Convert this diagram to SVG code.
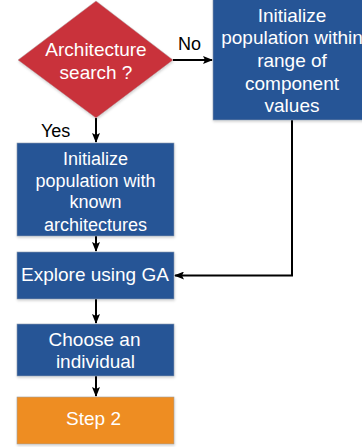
<svg xmlns="http://www.w3.org/2000/svg" width="362" height="447" viewBox="0 0 362 447">
<style>
.box{fill:#255596;stroke:#8c9cb0;stroke-width:0.6;filter:url(#sh)}
.t{font-family:"Liberation Sans",Arial,sans-serif;font-size:19px;fill:#fff;text-anchor:middle}
.s{font-size:18px}
.lbl{font-family:"Liberation Sans",Arial,sans-serif;font-size:18px;fill:#000}
.c{fill:none;stroke:#000;stroke-width:2;marker-end:url(#ah)}
</style>
<defs>
<filter id="sh" x="-10%" y="-10%" width="120%" height="130%">
<feDropShadow dx="0.5" dy="1.5" stdDeviation="1" flood-color="#000" flood-opacity="0.18"/>
</filter>
<marker id="ah" markerWidth="10" markerHeight="8" refX="9" refY="4" orient="auto" markerUnits="userSpaceOnUse">
<path d="M0,0 L10,4 L0,8 L2,4 Z" fill="#000"/>
</marker>
</defs>
<g id="connectors">
<path class="c" d="M173,60 H212"/>
<path class="c" d="M96,118 V142"/>
<path class="c" d="M96,236 V251"/>
<path class="c" d="M292,120 V275.5 H175"/>
<path class="c" d="M96,299 V323"/>
<path class="c" d="M96,376 V396"/>
<text class="lbl" x="178" y="50">No</text>
<text class="lbl" x="41" y="137">Yes</text>
</g>
<g id="decision">
<polygon points="96,1 173,60 96,118 18,60" fill="#c9303b" stroke="#b0a0a0" stroke-width="0.5" filter="url(#sh)"/>
<text class="t" x="96" y="56">Architecture</text>
<text class="t" x="96" y="78.5">search ?</text>
</g>
<g id="init-range">
<rect class="box" x="213" y="-1" width="158" height="121"/>
<text class="t" x="292" y="22">Initialize</text>
<text class="t" x="292" y="44">population within</text>
<text class="t" x="292" y="66.5">range of</text>
<text class="t" x="292" y="89.5">component</text>
<text class="t" x="292" y="112">values</text>
</g>
<g id="init-known">
<rect class="box" x="17" y="143" width="157" height="93"/>
<text class="t s" x="95.5" y="164.5">Initialize</text>
<text class="t s" x="95.5" y="186.5">population with</text>
<text class="t s" x="95.5" y="208">known</text>
<text class="t s" x="95.5" y="230.5">architectures</text>
</g>
<g id="explore">
<rect class="box" x="17" y="252" width="157" height="47"/>
<text class="t" x="95" y="281">Explore using GA</text>
</g>
<g id="choose">
<rect class="box" x="17" y="324" width="157" height="52"/>
<text class="t" x="94.5" y="346">Choose an</text>
<text class="t" x="95.5" y="368">individual</text>
</g>
<g id="step2">
<rect x="17" y="397" width="157" height="47" fill="#ee8d22" stroke="#a0a0a0" stroke-width="0.6" filter="url(#sh)"/>
<text class="t" x="93.5" y="425">Step 2</text>
</g>
</svg>
